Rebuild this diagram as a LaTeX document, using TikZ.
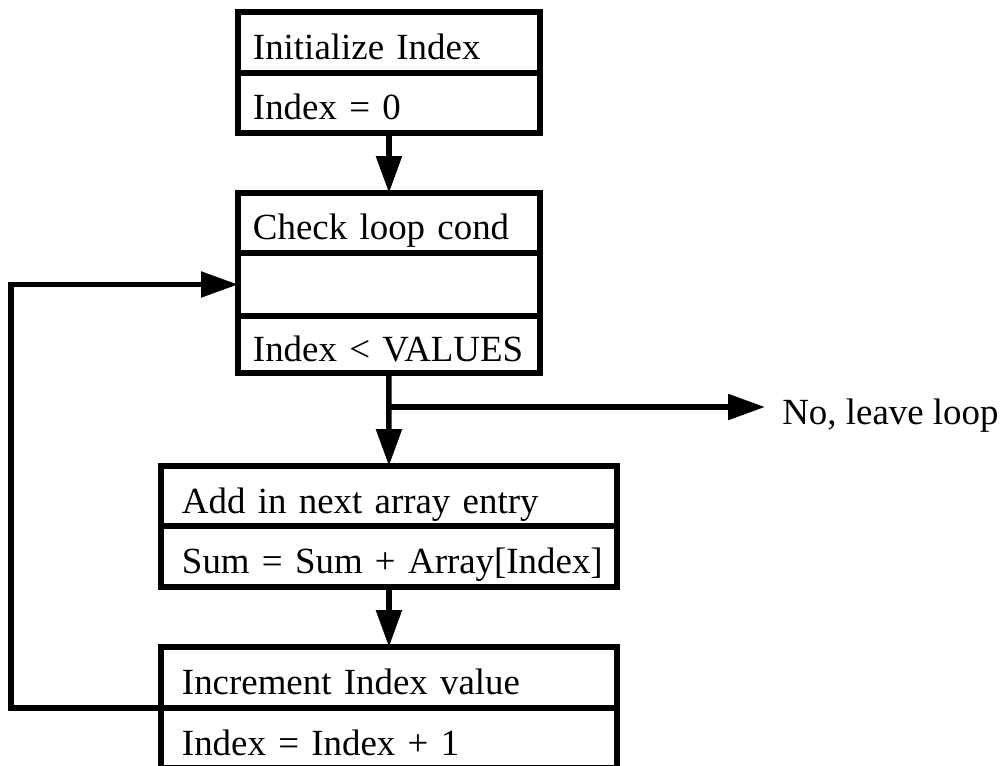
\documentclass[tikz,border=0pt]{standalone}
\usepackage{fontspec}
\setmainfont{Liberation Serif}
\usetikzlibrary{arrows.meta}

\begin{document}
\begin{tikzpicture}[x=0.02cm, y=-0.02cm, font=\fontsize{21}{25}\selectfont,
  cell/.style={draw, line width=0.11cm, outer sep=0pt, anchor=north west, inner ysep=0pt, text height=0.68cm, text depth=0cm, align=left, minimum height=1.2cm},
  narrow/.style={cell, text width=5.44cm, inner xsep=0.3cm},
  wide/.style={cell, text width=8.28cm, inner xsep=0.42cm},
  arr/.style={line width=0.11cm, -{Triangle[length=0.74cm, width=0.5cm]}}]
  \useasboundingbox (0,0) rectangle (1005,765);
  \node[narrow, minimum height=1.22cm] (init) at (238,12) {Initialize Index};
  \node[narrow] (initval) at (238,73) {Index = 0};
  \node[narrow] (check) at (238,193) {Check loop cond};
  \node[narrow, minimum height=1.26cm] (checkgap) at (238,253) {};
  \node[narrow, minimum height=1.14cm] (checkcond) at (238,316) {Index < VALUES};
  \node[wide] (add) at (161,466) {Add in next array entry};
  \node[wide, minimum height=1.22cm] (addval) at (161,526) {\mbox{Sum = Sum + Array[Index]}};
  \node[wide, minimum height=1.22cm] (inc) at (161,647) {Increment Index value};
  \node[wide] (incval) at (161,708) {Index = Index + 1};
  \node[anchor=west, inner xsep=0.34cm, inner ysep=0pt, text height=0.68cm, text depth=0cm] (leave) at (765,407) {No, leave loop};
  \coordinate (split) at (checkcond.south |- leave.west);
  \draw[arr] (initval.south) -- (check.north);
  \draw[arr] (checkcond.south) -- (add.north);
  \draw[arr] (split) -- (leave.west);
  \draw[arr] (addval.south) -- (inc.north);
  \draw[arr] (inc.south west) -- ++(-150,0) |- (checkgap.west);
\end{tikzpicture}
\end{document}
